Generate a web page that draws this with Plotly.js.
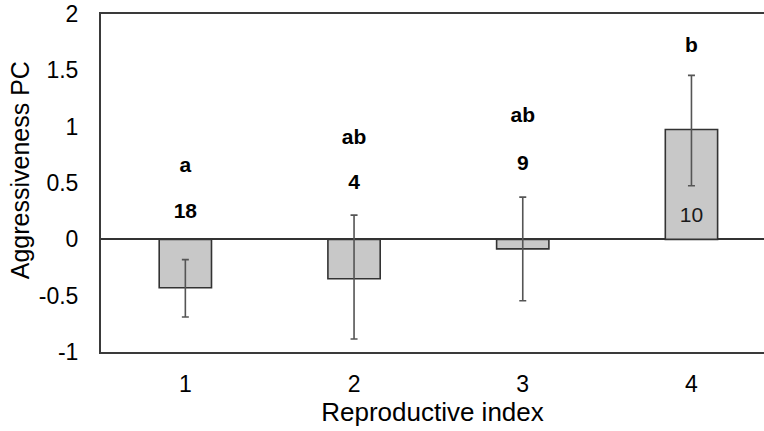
<!DOCTYPE html>
<html>
<head>
<meta charset="utf-8">
<script src="https://cdn.plot.ly/plotly-3.0.1.min.js"></script>
<style>html,body{margin:0;padding:0;background:#fff;}#chart{width:764px;height:431px;}</style>
</head>
<body>
<div id="chart"></div>
<script>
// Data
const categories = [1, 2, 3, 4];
const means = [-0.43, -0.35, -0.085, 0.975];
const errPlus = [0.25, 0.565, 0.46, 0.48];
const errMinus = [0.26, 0.535, 0.46, 0.50];
const groupLetters = ['a', 'ab', 'ab', 'b'];
const letterY = [0.64, 0.89, 1.09, 1.71];
const sampleSizes = ['18', '4', '9', '10'];
const sampleY = [0.24, 0.49, 0.66, 0.20];
const yTickVals = [-1, -0.5, 0, 0.5, 1, 1.5, 2];
const yTickText = ['-1', '-0.5', '0', '0.5', '1', '1.5', '2'];
const xTickVals = [1, 2, 3, 4];
const xTickText = ['1', '2', '3', '4'];
const xTitle = 'Reproductive index';
const yTitle = 'Aggressiveness PC';

const font = 'Liberation Sans, Arial, sans-serif';

const traces = [
  {
    type: 'bar', x: categories, y: means, width: 0.31,
    marker: {color: '#c8c8c8', line: {color: '#333333', width: 1.6}},
    error_y: {type: 'data', symmetric: false, array: errPlus, arrayminus: errMinus,
              color: '#555555', thickness: 1.6, width: 3.5},
    hoverinfo: 'skip', showlegend: false
  },
  {
    type: 'scatter', mode: 'text', x: categories, y: letterY, text: groupLetters,
    textfont: {family: font, size: 21, color: '#000', weight: 'bold'},
    hoverinfo: 'skip', showlegend: false
  },
  {
    type: 'scatter', mode: 'text', x: categories.slice(0, 3), y: sampleY.slice(0, 3), text: sampleSizes.slice(0, 3),
    textfont: {family: font, size: 21, color: '#000', weight: 'bold'},
    hoverinfo: 'skip', showlegend: false
  },
  {
    type: 'scatter', mode: 'text', x: categories.slice(3), y: sampleY.slice(3), text: sampleSizes.slice(3),
    textfont: {family: font, size: 21, color: '#1a1a1a'},
    hoverinfo: 'skip', showlegend: false
  }
];

const layout = {
  width: 764, height: 431,
  margin: {l: 101, r: 0, t: 14, b: 79},
  paper_bgcolor: '#fff', plot_bgcolor: '#fff',
  font: {family: font, color: '#000'},
  xaxis: {
    range: [0.5, 4.43], tickvals: xTickVals, ticktext: xTickText,
    showgrid: false, zeroline: false, showline: true, mirror: true,
    linecolor: '#3a3a3a', linewidth: 2, ticks: '', ticklabelstandoff: 10,
    tickfont: {family: font, size: 23, color: '#000'},
    title: {text: xTitle, font: {family: font, size: 26, color: '#000'}, standoff: 0}
  },
  yaxis: {
    range: [-1, 2], tickvals: yTickVals, ticktext: yTickText,
    showgrid: false, zeroline: true, zerolinecolor: '#333333', zerolinewidth: 1.8,
    showline: true, linecolor: '#3a3a3a', linewidth: 2, ticks: '', ticklabelstandoff: 16,
    tickfont: {family: font, size: 23, color: '#000'}
  },
  annotations: [{
    text: yTitle, xref: 'paper', yref: 'paper', x: -0.122, y: 0.538,
    xanchor: 'center', yanchor: 'middle', textangle: -90, showarrow: false,
    font: {family: font, size: 25, color: '#000'}
  }]
};

Plotly.newPlot('chart', traces, layout, {staticPlot: true, displayModeBar: false});
</script>
</body>
</html>
